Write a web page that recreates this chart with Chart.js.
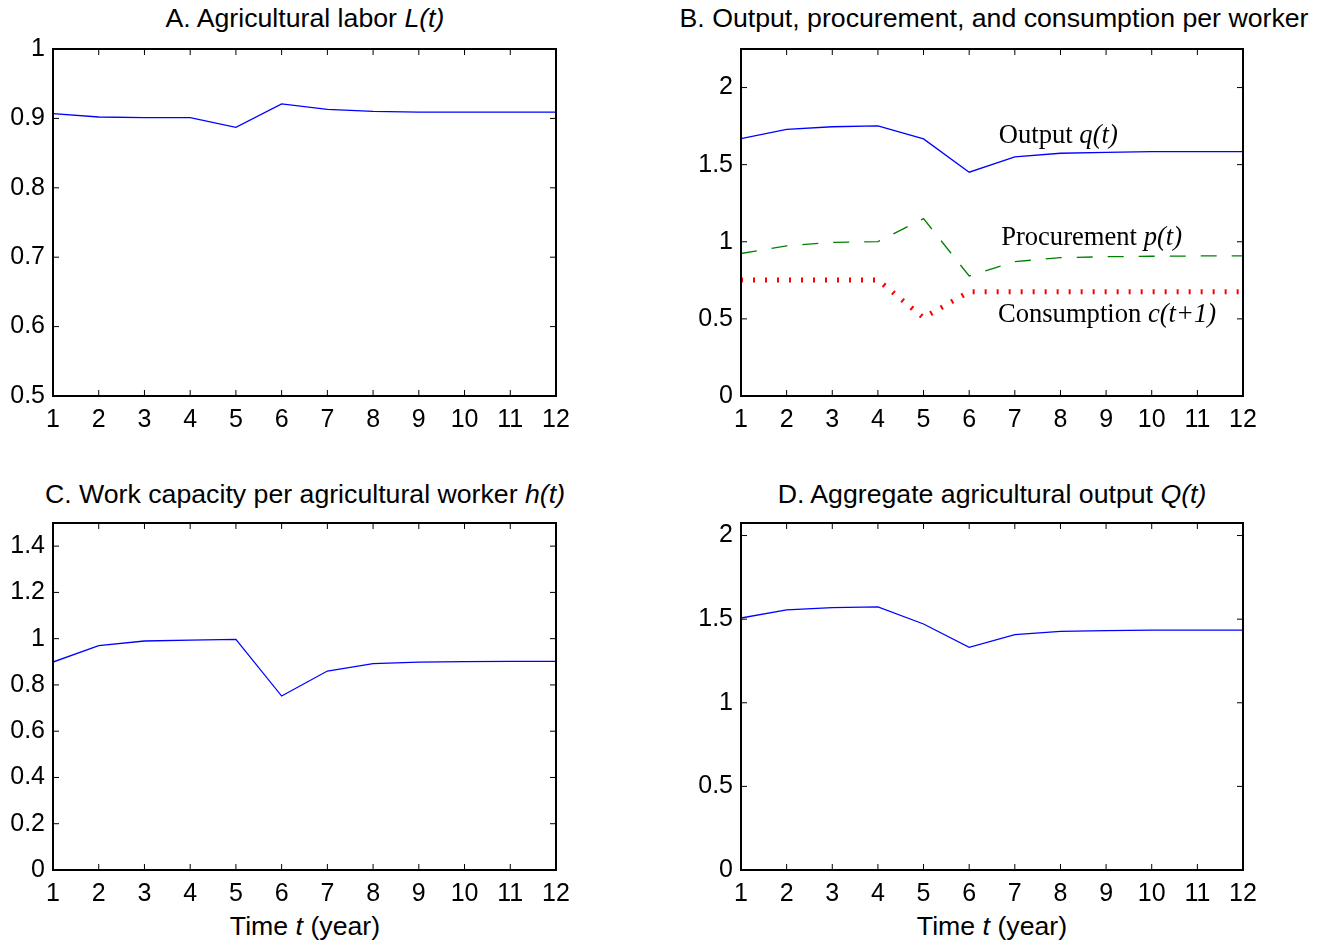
<!DOCTYPE html>
<html>
<head>
<meta charset="utf-8">
<script src="https://cdn.jsdelivr.net/npm/chart.js@4.4.1/dist/chart.umd.min.js"></script>
<style>
  body { margin: 0; background: #fff; }
  #page { position: relative; width: 1330px; height: 945px; font-family: "Liberation Sans", Arial, sans-serif; color: #000; }
  canvas { position: absolute; }
  .ttl { position: absolute; width: 800px; text-align: center; font-size: 26.7px; line-height: 30px; white-space: nowrap; }
</style>
</head>
<body>
<div id="page">
  <div class="ttl" style="left:-95px;top:3px">A. Agricultural labor <i>L(t)</i></div>
  <div class="ttl" style="left:594px;top:3px">B. Output, procurement, and consumption per worker</div>
  <div class="ttl" style="left:-95px;top:479px">C. Work capacity per agricultural worker <i>h(t)</i></div>
  <div class="ttl" style="left:592px;top:479px">D. Aggregate agricultural output <i>Q(t)</i></div>
  <div class="ttl" style="left:-95px;top:911px">Time <i>t</i> (year)</div>
  <div class="ttl" style="left:592px;top:911px">Time <i>t</i> (year)</div>

  <canvas id="chartA" width="577" height="416" style="left:3px;top:25px"></canvas>
  <canvas id="chartB" width="576" height="416" style="left:691px;top:25px"></canvas>
  <canvas id="chartC" width="577" height="416" style="left:3px;top:499px"></canvas>
  <canvas id="chartD" width="576" height="416" style="left:691px;top:499px"></canvas>
</div>

<script>
// time axis
const years = [1, 2, 3, 4, 5, 6, 7, 8, 9, 10, 11, 12];

// series
const laborL       = [0.907, 0.902, 0.901, 0.901, 0.887, 0.921, 0.913, 0.910, 0.909, 0.909, 0.909, 0.909];
const outputQ      = [1.669, 1.729, 1.746, 1.751, 1.667, 1.451, 1.550, 1.574, 1.580, 1.584, 1.585, 1.585];
const procurementP = [0.924, 0.974, 0.996, 1.001, 1.150, 0.778, 0.871, 0.897, 0.903, 0.906, 0.908, 0.908];
const consumptionC = [0.752, 0.752, 0.752, 0.752, 0.508, 0.676, 0.676, 0.676, 0.676, 0.676, 0.676, 0.676];
const capacityH    = [0.899, 0.970, 0.990, 0.994, 0.997, 0.752, 0.860, 0.892, 0.899, 0.901, 0.902, 0.902];
const aggregateQ   = [1.507, 1.555, 1.569, 1.573, 1.471, 1.331, 1.407, 1.427, 1.431, 1.434, 1.435, 1.435];

// tick labels
const xTicks  = [1, 2, 3, 4, 5, 6, 7, 8, 9, 10, 11, 12];
const yTicksA = [0.5, 0.6, 0.7, 0.8, 0.9, 1];
const yTicksB = [0, 0.5, 1, 1.5, 2];
const yTicksC = [0, 0.2, 0.4, 0.6, 0.8, 1, 1.2, 1.4];
const yTicksD = [0, 0.5, 1, 1.5, 2];

// text notes in panel B: [x, y, normal part, italic part]
const notesB = [
  [6.65, 1.687, "Output ", "q(t)"],
  [6.70, 1.025, "Procurement ", "p(t)"],
  [6.63, 0.525, "Consumption ", "c(t+1)"]
];

const tickFont = { family: "Liberation Sans", size: 25 };

function pts(vals) {
  return years.map(function (t, i) { return { x: t, y: vals[i] }; });
}

// box around the plot with inward ticks on all four sides
const boxTicks = {
  id: "boxTicks",
  afterDraw(chart) {
    const ctx = chart.ctx, a = chart.chartArea;
    const x = chart.scales.x, y = chart.scales.y;
    ctx.save();
    ctx.strokeStyle = "#000";
    ctx.lineWidth = 1;
    ctx.beginPath();
    x.ticks.forEach(function (t) {
      const px = x.getPixelForValue(t.value);
      ctx.moveTo(px, a.bottom); ctx.lineTo(px, a.bottom - 6);
      ctx.moveTo(px, a.top); ctx.lineTo(px, a.top + 6);
    });
    y.ticks.forEach(function (t) {
      const py = y.getPixelForValue(t.value);
      ctx.moveTo(a.left, py); ctx.lineTo(a.left + 6, py);
      ctx.moveTo(a.right, py); ctx.lineTo(a.right - 6, py);
    });
    ctx.stroke();
    ctx.lineWidth = 2;
    ctx.strokeRect(a.left, a.top, a.right - a.left, a.bottom - a.top);
    ctx.restore();
  }
};

const notesPlugin = {
  id: "notes",
  afterDatasetsDraw(chart) {
    const ctx = chart.ctx, x = chart.scales.x, y = chart.scales.y;
    ctx.save();
    ctx.fillStyle = "#000";
    ctx.textBaseline = "middle";
    notesB.forEach(function (n) {
      const px = x.getPixelForValue(n[0]), py = y.getPixelForValue(n[1]);
      ctx.font = "26.6px 'Liberation Serif'";
      ctx.fillText(n[2], px, py);
      const w = ctx.measureText(n[2]).width;
      ctx.font = "italic 26.6px 'Liberation Serif'";
      ctx.fillText(n[3], px + w, py);
    });
    ctx.restore();
  }
};

function makeChart(id, datasets, yMin, yMax, yTicks, extra) {
  const plugins = [boxTicks];
  if (extra) plugins.push(extra);
  return new Chart(document.getElementById(id), {
    type: "line",
    data: { datasets: datasets },
    options: {
      responsive: false,
      animation: false,
      devicePixelRatio: 1,
      layout: { padding: { top: 24, right: 24, left: 0, bottom: 0 } },
      elements: { point: { radius: 0 }, line: { tension: 0 } },
      plugins: { legend: { display: false }, tooltip: { enabled: false } },
      scales: {
        x: {
          type: "linear", min: 1, max: 12,
          afterBuildTicks: function (s) { s.ticks = xTicks.map(function (v) { return { value: v }; }); },
          afterFit: function (s) { s.height = 45; },
          grid: { display: false, drawTicks: false }, border: { display: false },
          ticks: { font: tickFont, color: "#000", padding: 9, maxRotation: 0, autoSkip: false,
                   callback: function (v) { return String(v); } }
        },
        y: {
          type: "linear", min: yMin, max: yMax,
          afterBuildTicks: function (s) { s.ticks = yTicks.map(function (v) { return { value: v }; }); },
          afterFit: function (s) { s.width = 50; },
          grid: { display: false, drawTicks: false }, border: { display: false },
          ticks: { font: tickFont, color: "#000", padding: 8,
                   callback: function (v) { return String(Number(v.toFixed(2))); } }
        }
      }
    },
    plugins: plugins
  });
}

function blue(vals) {
  return { data: pts(vals), borderColor: "#0000ff", borderWidth: 1.3 };
}

makeChart("chartA", [blue(laborL)], 0.5, 1, yTicksA);

makeChart("chartB", [
  blue(outputQ),
  { data: pts(procurementP), borderColor: "#008000", borderWidth: 1.3, borderDash: [16, 15] },
  { data: pts(consumptionC), borderColor: "#ff0000", borderWidth: 5, borderDash: [2, 10], borderCapStyle: "butt" }
], 0, 2.25, yTicksB, notesPlugin);

makeChart("chartC", [blue(capacityH)], 0, 1.5, yTicksC);

makeChart("chartD", [blue(aggregateQ)], 0, 2.075, yTicksD);
</script>
</body>
</html>
